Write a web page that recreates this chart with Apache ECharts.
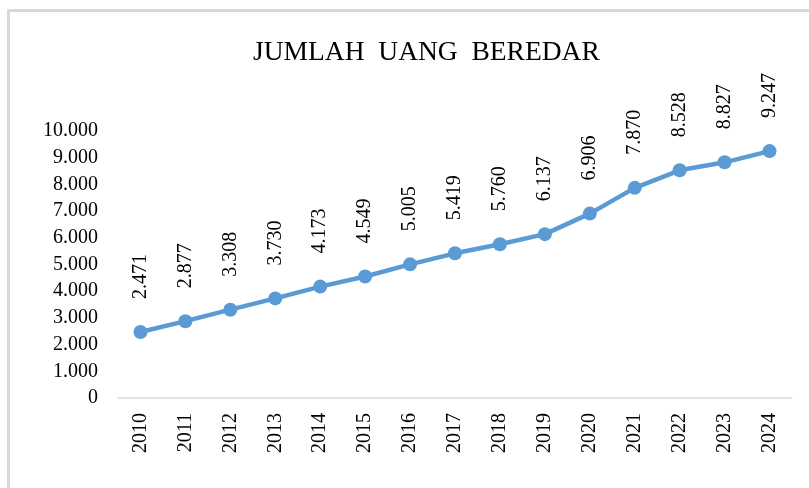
<!DOCTYPE html>
<html>
<head>
<meta charset="utf-8">
<script src="https://cdn.jsdelivr.net/npm/echarts@6/dist/echarts.min.js"></script>
<style>
  html, body { margin: 0; padding: 0; background: #fff; }
  #chart { width: 809px; height: 488px; }
</style>
</head>
<body>
<div id="chart"></div>
<script>
const years = ["2010", "2011", "2012", "2013", "2014", "2015", "2016", "2017",
    "2018", "2019", "2020", "2021", "2022", "2023", "2024"];
const uang_beredar = [2471, 2877, 3308, 3730, 4173, 4549, 5005, 5419,
    5760, 6137, 6906, 7870, 8528, 8827, 9247];
const y_ticks = { min: 0, max: 10000, interval: 1000 };

const FONT = "'Liberation Serif', 'Times New Roman', serif";

// 9247 -> "9.247"
function fmt(v) {
    return String(v).replace(/\B(?=(\d{3})+(?!\d))/g, ".");
}

const chart = echarts.init(document.getElementById("chart"), null, { renderer: "canvas" });

chart.setOption({
    animation: false,
    title: {
        text: "JUMLAH  UANG  BEREDAR",
        left: 248,
        top: 34,
        textStyle: { fontFamily: FONT, fontSize: 27.5, fontWeight: "normal", color: "#000" },
    },
    graphic: [
        {
            type: "rect",
            shape: { x: 8.5, y: 10.5, width: 900, height: 600 },
            style: { fill: "none", stroke: "#d9d9d9", lineWidth: 3 },
            silent: true,
        },
    ],
    grid: { left: 118, right: 17, top: 131, bottom: 90 },
    xAxis: {
        type: "category",
        data: years,
        boundaryGap: true,
        axisLine: { lineStyle: { color: "#d9d9d9", width: 1.5 } },
        axisTick: { show: false },
        axisLabel: {
            rotate: 90,
            margin: 15,
            fontFamily: FONT,
            fontSize: 20,
            color: "#000",
        },
    },
    yAxis: {
        type: "value",
        min: y_ticks.min,
        max: y_ticks.max,
        interval: y_ticks.interval,
        splitLine: { show: false },
        axisLine: { show: false },
        axisTick: { show: false },
        axisLabel: {
            margin: 20,
            fontFamily: FONT,
            fontSize: 20,
            color: "#000",
            formatter: (v) => fmt(v),
        },
    },
    series: [
        {
            type: "line",
            data: uang_beredar,
            symbol: "circle",
            symbolSize: 14,
            lineStyle: { color: "#5b9bd5", width: 4.5 },
            itemStyle: { color: "#5b9bd5" },
            label: {
                show: true,
                position: "top",
                distance: 26,
                rotate: 90,
                align: "left",
                verticalAlign: "middle",
                fontFamily: FONT,
                fontSize: 20,
                color: "#000",
                formatter: (p) => fmt(p.value),
            },
        },
    ],
});
</script>
</body>
</html>
